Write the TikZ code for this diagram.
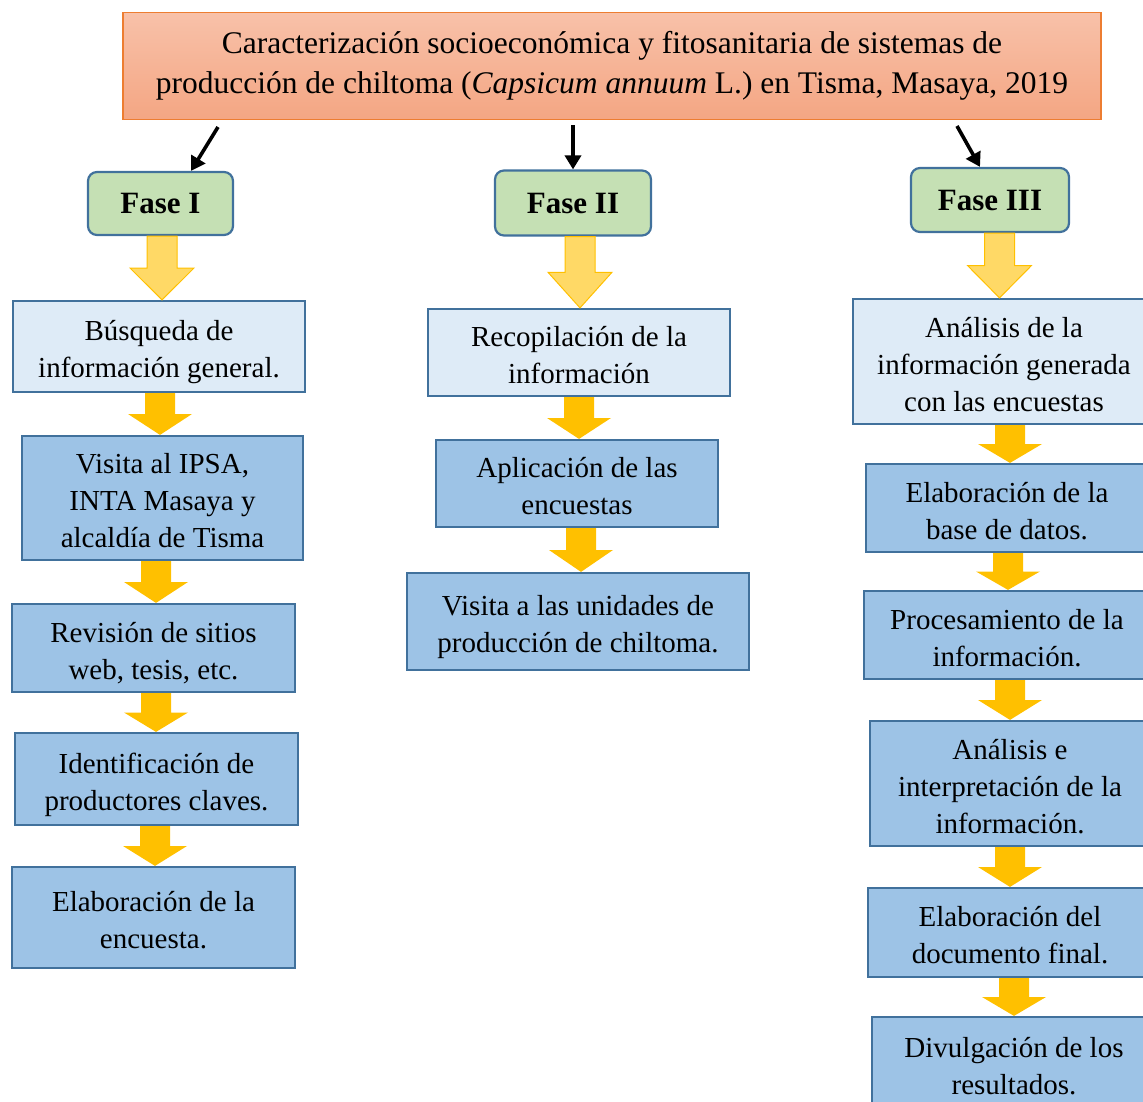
\documentclass[tikz,border=0pt]{standalone}
\usepackage{fontspec}
\setmainfont{Liberation Serif}
\usetikzlibrary{calc,arrows.meta}
\definecolor{titletop}{HTML}{F8C1A9}
\definecolor{titlebot}{HTML}{F4A683}
\definecolor{titleedge}{HTML}{ED7D31}
\definecolor{fasefill}{HTML}{C5E0B4}
\definecolor{edgeblue}{HTML}{41719C}
\definecolor{lightbox}{HTML}{DEEBF7}
\definecolor{darkbox}{HTML}{9DC3E6}
\definecolor{lightarr}{HTML}{FFD966}
\definecolor{goldarr}{HTML}{FFC000}
\newcommand{\topgap}{\rule{0pt}{34pt}}
\tikzset{
  titlebox/.style={draw=titleedge, line width=1.2pt, top color=titletop, bottom color=titlebot,
    align=center, inner sep=0pt, font=\fontsize{31.5}{40}\selectfont},
  fasebox/.style={draw=edgeblue, line width=2.2pt, fill=fasefill, rounded corners=9pt,
    align=center, inner sep=0pt, font=\fontsize{31}{36}\selectfont\bfseries},
  stepstrut/.style={execute at end node={\rule[-9pt]{0pt}{9pt}}},
  lbox/.style={draw=edgeblue, line width=2.2pt, fill=lightbox, align=center, inner sep=0pt,
    font=\fontsize{29}{37}\selectfont, stepstrut},
  dbox/.style={draw=edgeblue, line width=2.2pt, fill=darkbox, align=center, inner sep=0pt,
    font=\fontsize{29}{37}\selectfont, stepstrut},
  lightblock/.style={fill=lightarr, draw=goldarr, line width=1pt, line join=miter},
  darkblock/.style={fill=goldarr, draw=none},
  blk/.style={line width=3.6pt, -{Triangle[length=14pt,width=16pt]}},
}
\newcommand{\blockarr}[4]{%
  \draw[#1] let \p1=(#3.south), \p2=(#4.north), \n1={0.5*(\y1+\y2)} in
    ({#2pt-15pt},\y1) -- ({#2pt+15pt},\y1) -- ({#2pt+15pt},\n1) -- ({#2pt+32pt},\n1)
    -- ({#2pt},\y2) -- ({#2pt-32pt},\n1) -- ({#2pt-15pt},\n1) -- cycle;}
\begin{document}
\begin{tikzpicture}[x=1pt,y=-1pt]
\useasboundingbox (0,0) rectangle (1143,1101);
\clip (0,0) rectangle (1143,1101);
\node[titlebox, minimum width=978pt, minimum height=107pt] (title) at (612,66)
  {Caracterización socioeconómica y fitosanitaria de sistemas de\\
   producción de chiltoma (\textit{Capsicum annuum} L.) en Tisma, Masaya, 2019};
\node[fasebox, minimum width=145pt, minimum height=63pt] (f1) at (160.5,203.5) {Fase I};
\node[fasebox, minimum width=156pt, minimum height=65pt] (f2) at (573,203) {Fase II};
\node[fasebox, minimum width=158pt, minimum height=64pt] (f3) at (990,200) {Fase III};
% column 1
\node[lbox, minimum width=292pt, minimum height=91pt] (a1) at (159,346.5) {\topgap Búsqueda de\\información general.};
\node[dbox, minimum width=281pt, minimum height=124pt] (a2) at (162.5,498) {\topgap Visita al IPSA,\\INTA Masaya y\\alcaldía de Tisma};
\node[dbox, minimum width=283pt, minimum height=88pt] (a3) at (153.5,648) {\topgap Revisión de sitios\\web, tesis, etc.};
\node[dbox, minimum width=283pt, minimum height=92pt] (a4) at (156.5,779) {\topgap Identificación de\\productores claves.};
\node[dbox, minimum width=283pt, minimum height=101pt] (a5) at (153.5,917.5) {\topgap Elaboración de la\\encuesta.};
% column 2
\node[lbox, minimum width=302pt, minimum height=87pt] (b1) at (579,352.5) {\topgap Recopilación de la\\información};
\node[dbox, minimum width=282pt, minimum height=87pt] (b2) at (577,483.5) {\topgap Aplicación de las\\encuestas};
\node[dbox, minimum width=342pt, minimum height=97pt] (b3) at (578,621.5) {\topgap Visita a las unidades de\\producción de chiltoma.};
% column 3
\node[lbox, minimum width=302pt, minimum height=125pt] (c1) at (1004,361.5) {\topgap Análisis de la\\información generada\\con las encuestas};
\node[dbox, minimum width=282pt, minimum height=88pt] (c2) at (1007,508) {\topgap Elaboración de la\\base de datos.};
\node[dbox, minimum width=286pt, minimum height=88pt] (c3) at (1007,635) {\topgap Procesamiento de la\\información.};
\node[dbox, minimum width=280pt, minimum height=125pt] (c4) at (1010,783.5) {\topgap Análisis e\\interpretación de la\\información.};
\node[dbox, minimum width=284pt, minimum height=89pt] (c5) at (1010,932.5) {\topgap Elaboración del\\documento final.};
\node[dbox, minimum width=284pt, minimum height=93pt] (c6) at (1014,1063.5) {\topgap Divulgación de los\\resultados.};
% black arrows
\coordinate (s1) at (218,127);
\coordinate (s2) at (573,125);
\coordinate (s3) at (957,126);
\draw[blk] (s1) -- ([xshift=30.5pt]f1.north);
\draw[blk] (s2) -- (f2.north);
\draw[blk] (s3) -- ([xshift=-10pt]f3.north);
% block arrows
\blockarr{lightblock}{162}{f1}{a1}
\blockarr{lightblock}{580}{f2}{b1}
\blockarr{lightblock}{999.5}{f3}{c1}
\blockarr{darkblock}{160}{a1}{a2}
\blockarr{darkblock}{156}{a2}{a3}
\blockarr{darkblock}{156}{a3}{a4}
\blockarr{darkblock}{155}{a4}{a5}
\blockarr{darkblock}{579}{b1}{b2}
\blockarr{darkblock}{581}{b2}{b3}
\blockarr{darkblock}{1010}{c1}{c2}
\blockarr{darkblock}{1008}{c2}{c3}
\blockarr{darkblock}{1010}{c3}{c4}
\blockarr{darkblock}{1010}{c4}{c5}
\blockarr{darkblock}{1014}{c5}{c6}
\end{tikzpicture}
\end{document}
